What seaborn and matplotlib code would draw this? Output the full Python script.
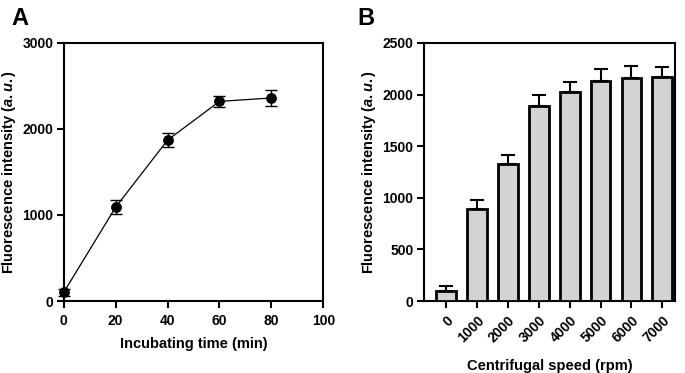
import matplotlib
matplotlib.use("Agg")
import matplotlib.pyplot as plt
import seaborn as sns
import numpy as np
import pandas as pd

# Panel A data
time_min = [0, 20, 40, 60, 80]
intensity_a = [100, 1090, 1870, 2320, 2360]
err_a = [40, 80, 80, 65, 90]

# Panel B data
speeds = ["0", "1000", "2000", "3000", "4000", "5000", "6000", "7000"]
intensity_b = [95, 890, 1330, 1890, 2025, 2135, 2160, 2165]
err_b = [50, 90, 80, 110, 100, 110, 115, 105]

sns.set_theme(style="ticks")
plt.rcParams['font.family'] = ['Liberation Sans', 'DejaVu Sans']
plt.rcParams['font.weight'] = 'bold'
plt.rcParams['text.color'] = 'black'
plt.rcParams['axes.labelcolor'] = 'black'
plt.rcParams['xtick.color'] = 'black'
plt.rcParams['ytick.color'] = 'black'
plt.rcParams['mathtext.fontset'] = 'custom'
plt.rcParams['mathtext.rm'] = 'Liberation Sans:bold'
plt.rcParams['mathtext.bf'] = 'Liberation Sans:bold'
plt.rcParams['mathtext.it'] = 'Liberation Sans:italic:bold'
plt.rcParams['mathtext.bfit'] = 'Liberation Sans:italic:bold'

fig = plt.figure(figsize=(6.85, 3.73), dpi=100)
axA = fig.add_axes([0.093, 0.193, 0.379, 0.692])
axB = fig.add_axes([0.619, 0.193, 0.366, 0.692])

ylabel = r"Fluorescence intensity ($\mathit{a.u.}$)"

def style(ax):
    for s in ax.spines.values():
        s.set_linewidth(1.5)
        s.set_color("black")
        s.set_visible(True)
    ax.tick_params(direction="out", length=5, width=1.5, colors="black",
                   labelsize=10)
    ax.tick_params(axis="x", pad=4)
    ax.tick_params(axis="y", pad=2.5)
    for lab in ax.get_xticklabels() + ax.get_yticklabels():
        lab.set_fontweight("bold")
        lab.set_color("black")

# Panel A
dfA = pd.DataFrame({"t": time_min, "y": intensity_a})
axA.errorbar(time_min, intensity_a, yerr=err_a, fmt="none", ecolor="black",
             elinewidth=1, capsize=4, capthick=1, zorder=2, clip_on=False)
sns.lineplot(data=dfA, x="t", y="y", ax=axA, color="black", linewidth=0.9,
             marker="o", markersize=7, markeredgecolor="black", zorder=3,
             clip_on=False)
axA.set_xlim(0, 100)
axA.set_ylim(0, 3000)
axA.set_xticks([0, 20, 40, 60, 80, 100])
axA.set_yticks([0, 1000, 2000, 3000])
axA.set_xlabel("Incubating time (min)", fontsize=10.5, fontweight="bold", labelpad=7)
axA.set_ylabel(ylabel, fontsize=10.5, fontweight="bold", labelpad=3)
style(axA)

# Panel B
dfB = pd.DataFrame({"speed": speeds, "y": intensity_b})
sns.barplot(data=dfB, x="speed", y="y", ax=axB, color="#d3d3d3",
            edgecolor="black", linewidth=2, width=0.64, saturation=1, zorder=3)
axB.errorbar(np.arange(len(speeds)), intensity_b,
             yerr=[np.zeros(len(err_b)), err_b], fmt="none", ecolor="black",
             elinewidth=1.5, capsize=5, capthick=1.5, zorder=2)
axB.set_ylim(0, 2500)
axB.set_xlim(-0.71, 7.4)
axB.set_yticks([0, 500, 1000, 1500, 2000, 2500])
axB.set_xlabel("Centrifugal speed (rpm)", fontsize=10.5, fontweight="bold", labelpad=10)
axB.set_ylabel(ylabel, fontsize=10.5, fontweight="bold", labelpad=3)
style(axB)
for lab in axB.get_xticklabels():
    lab.set_rotation(45)
    lab.set_ha("right")
    lab.set_rotation_mode("anchor")

fig.text(0.017, 0.98, "A", fontsize=17, fontweight="bold", va="top", ha="left")
fig.text(0.522, 0.98, "B", fontsize=17, fontweight="bold", va="top", ha="left")

fig.savefig("out.png", dpi=100)
